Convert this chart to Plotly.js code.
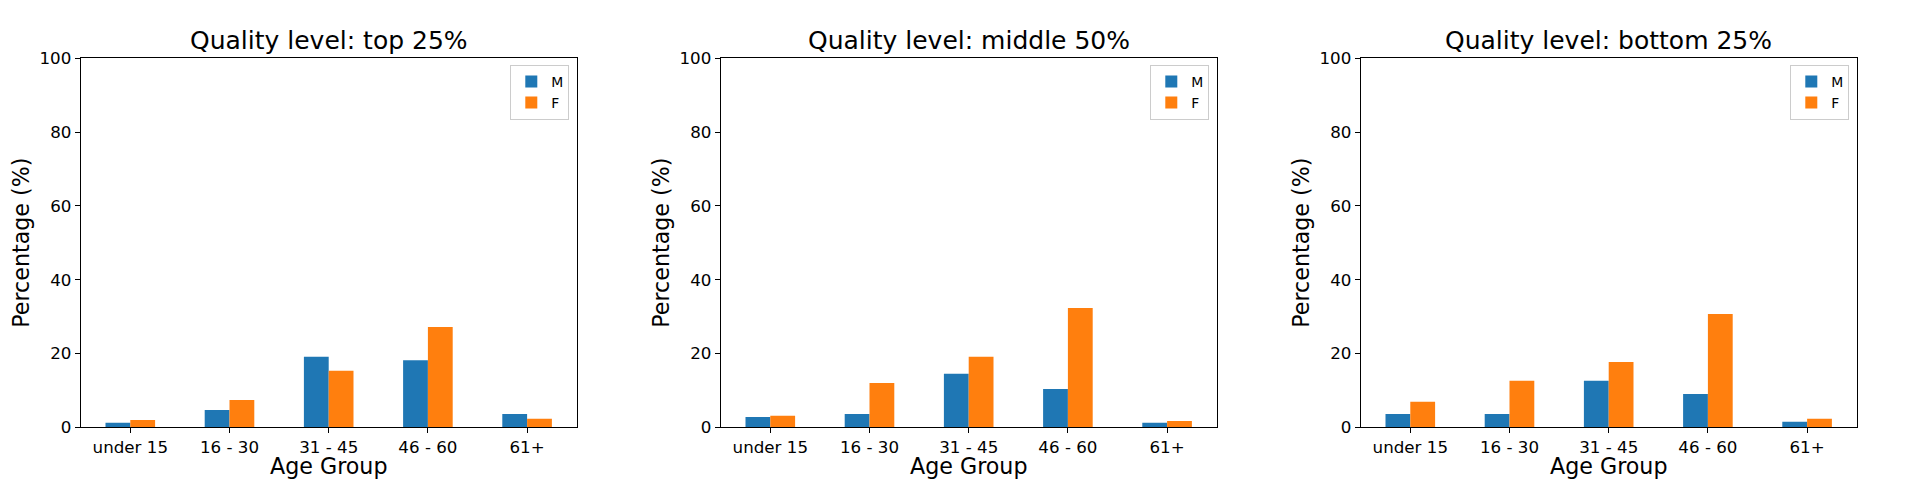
<!DOCTYPE html>
<html>
<head>
<meta charset="utf-8">
<script src="https://cdn.plot.ly/plotly-3.0.1.min.js"></script>
<style>html,body{margin:0;padding:0;background:#fff;}#chart{width:1920px;height:480px;}</style>
</head>
<body>
<div id="chart"></div>
<script>
// ---- data ----
var categories = ['under 15', '16 - 30', '31 - 45', '46 - 60', '61+'];
var seriesNames = ['M', 'F'];
var panelTitles = ['Quality level: top 25%', 'Quality level: middle 50%', 'Quality level: bottom 25%'];
var topM = [1.2, 4.7, 19.1, 18.2, 3.6];
var topF = [2.0, 7.4, 15.3, 27.2, 2.3];
var midM = [2.8, 3.6, 14.5, 10.4, 1.2];
var midF = [3.1, 12.0, 19.1, 32.3, 1.7];
var botM = [3.6, 3.6, 12.6, 9.0, 1.5];
var botF = [6.9, 12.6, 17.7, 30.7, 2.3];
var yTickVals = [0, 20, 40, 60, 80, 100];
var xTitle = 'Age Group';
var yTitle = 'Percentage (%)';

// ---- style ----
var colors = ['#1f77b4', '#ff7f0e'];
var FONT = 'DejaVu Sans, sans-serif';
var W = 1920, H = 480;
var panelOffset = 640;
var plotL = 80.7, plotR = 576.7, plotT = 58.3, plotB = 427.3;

var panels = [[topM, topF], [midM, midF], [botM, botF]];
var traces = [];
var layout = {
  width: W, height: H,
  margin: {l: 0, r: 0, t: 0, b: 0},
  paper_bgcolor: '#fff', plot_bgcolor: '#fff',
  barmode: 'group', bargap: 0.5, bargroupgap: 0,
  font: {family: FONT, color: '#000'},
  showlegend: true,
  annotations: []
};

panels.forEach(function (p, i) {
  var sfx = i === 0 ? '' : String(i + 1);
  var off = i * panelOffset;
  var xa = 'x' + sfx, ya = 'y' + sfx;
  var lg = 'legend' + sfx;
  p.forEach(function (vals, s) {
    traces.push({
      type: 'bar', x: categories, y: vals, name: seriesNames[s],
      xaxis: xa, yaxis: ya, legend: lg,
      marker: {color: colors[s], line: {width: 0}},
      hoverinfo: 'x+y+name'
    });
  });
  var d0 = (plotL + off) / W, d1 = (plotR + off) / W;
  layout['xaxis' + sfx] = {
    domain: [d0, d1], anchor: ya, type: 'category',
    range: [-0.5, categories.length - 0.5],
    showline: true, mirror: true, linecolor: '#000', linewidth: 1,
    showgrid: false, zeroline: false,
    ticks: 'outside', ticklen: 5, tickwidth: 1, tickcolor: '#000',
    tickfont: {family: FONT, size: 16.7, color: '#000'},
    automargin: false, fixedrange: true
  };
  layout['yaxis' + sfx] = {
    domain: [1 - plotB / H, 1 - plotT / H], anchor: xa,
    range: [0, 100], tickvals: yTickVals,
    showline: true, mirror: true, linecolor: '#000', linewidth: 1,
    showgrid: false, zeroline: false,
    ticks: 'outside', ticklen: 5, tickwidth: 1, tickcolor: '#000',
    tickfont: {family: FONT, size: 16.7, color: '#000'},
    automargin: false, fixedrange: true
  };
  layout[lg] = {
    x: (569.3 + off) / W, xanchor: 'right',
    y: 1 - 65 / H, yanchor: 'top',
    xref: 'paper', yref: 'paper',
    bgcolor: 'rgba(255,255,255,0.8)', bordercolor: '#cccccc', borderwidth: 1,
    font: {family: FONT, size: 13.9, color: '#000'},
    tracegroupgap: 0
  };
  var cx = (plotL + plotR) / 2 + off;
  layout.annotations.push({
    text: panelTitles[i], xref: 'paper', yref: 'paper',
    x: cx / W, y: 1 - 40 / H, xanchor: 'center', yanchor: 'middle',
    showarrow: false, font: {family: FONT, size: 25, color: '#000'}
  });
  layout.annotations.push({
    text: xTitle, xref: 'paper', yref: 'paper',
    x: cx / W, y: 1 - 466 / H, xanchor: 'center', yanchor: 'middle',
    showarrow: false, font: {family: FONT, size: 22.2, color: '#000'}
  });
  layout.annotations.push({
    text: yTitle, xref: 'paper', yref: 'paper', textangle: -90,
    x: (21 + off) / W, y: 1 - ((plotT + plotB) / 2) / H, xanchor: 'center', yanchor: 'middle',
    showarrow: false, font: {family: FONT, size: 22.2, color: '#000'}
  });
});

Plotly.newPlot('chart', traces, layout, {displayModeBar: false, responsive: false});
</script>
</body>
</html>
